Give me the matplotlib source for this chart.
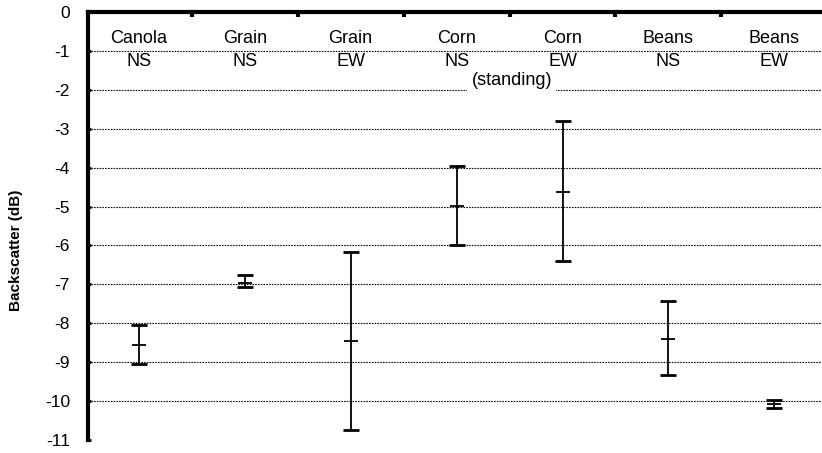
import matplotlib
matplotlib.use("Agg")
import matplotlib.pyplot as plt

crops = ["Canola", "Grain", "Grain", "Corn", "Corn", "Beans", "Beans"]
orient = ["NS", "NS", "EW", "NS", "EW", "NS", "EW"]
upper = [-8.04, -6.76, -6.17, -3.95, -2.79, -7.43, -9.98]
mean = [-8.56, -6.97, -8.46, -4.99, -4.62, -8.40, -10.07]
lower = [-9.05, -7.07, -10.75, -6.00, -6.40, -9.34, -10.17]
yticks = list(range(0, -12, -1))

plt.rcParams['font.family'] = ['Liberation Sans', 'DejaVu Sans']

fig = plt.figure(figsize=(8.22, 4.53), dpi=100)
ax = fig.add_axes([88/822, 1-440/453, 1-88/822, (440-12)/453])

x = list(range(len(crops)))
ax.set_xlim(-0.48, 6.45)
ax.set_ylim(-11, 0)

for g in range(-1, -11, -1):
    ax.axhline(g, color='#111111', lw=0.8, ls=(0, (1.5, 1)), zorder=1)

yerr_lo = [m - l for m, l in zip(mean, lower)]
yerr_hi = [u - m for m, u in zip(mean, upper)]
ax.errorbar(x, mean, yerr=[yerr_lo, yerr_hi], fmt='none', ecolor='black',
            elinewidth=1.3, capsize=5.5, capthick=2, zorder=3)
ax.plot(x, mean, ls='none', marker='_', ms=10, mew=1.3, color='black', zorder=4)

for xi, c, o in zip(x, crops, orient):
    ax.text(xi, -0.69, c, ha='center', va='center', fontsize=13, zorder=5)
    ax.text(xi, -1.28, o, ha='center', va='center', fontsize=13, zorder=5)
ax.text(3.52, -1.75, "(standing)", ha='center', va='center', fontsize=13,
        zorder=5, bbox=dict(facecolor='white', edgecolor='none', pad=3))

for s in ['right', 'bottom']:
    ax.spines[s].set_visible(False)
ax.spines['left'].set_linewidth(3)
ax.spines['top'].set_linewidth(3)
ax.spines['left'].set_capstyle('projecting')

ax.set_yticks(yticks)
ax.set_yticklabels([str(t) for t in yticks])
ax.tick_params(axis='y', direction='in', length=2, width=2, pad=13, labelsize=12.5)
ax.xaxis.tick_top()
ax.set_xticks([i + 0.5 for i in range(len(crops) - 1)])
ax.set_xticklabels([])
ax.tick_params(axis='x', direction='in', length=3.5, width=3, top=True, bottom=False)

ax.set_ylabel("Backscatter (dB)", fontsize=11, fontweight='bold')
ax.yaxis.set_label_coords(23/822, 1-250/453, transform=fig.transFigure)

fig.savefig("out.png", dpi=100)
